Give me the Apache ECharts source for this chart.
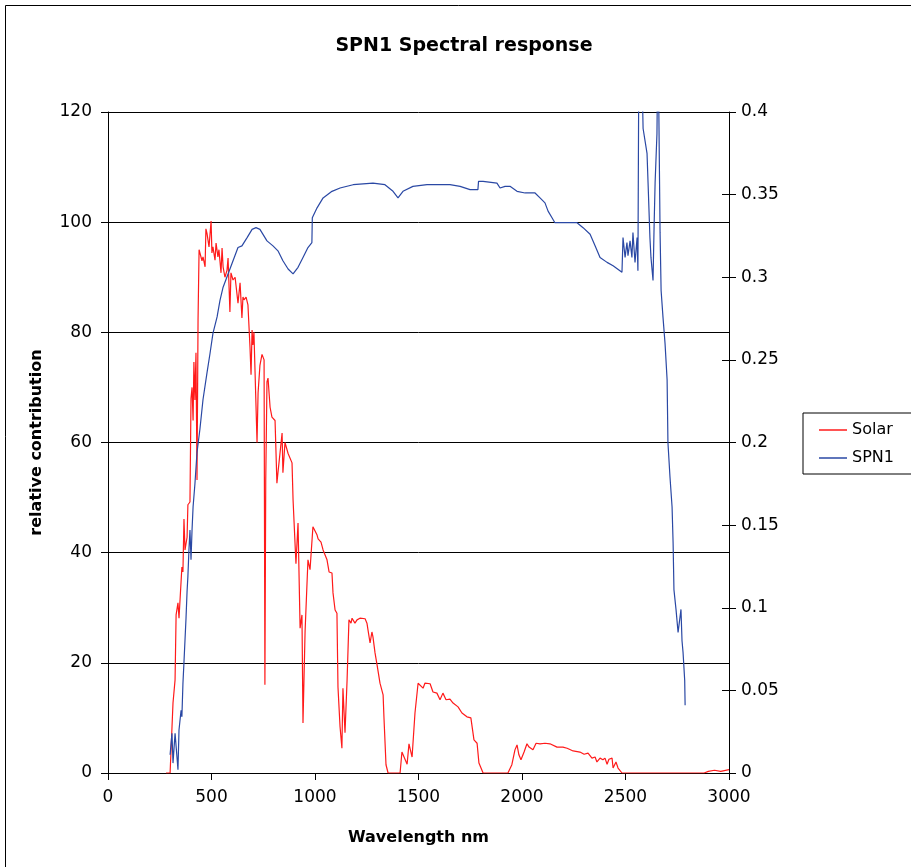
<!DOCTYPE html>
<html>
<head>
<meta charset="utf-8">
<script src="https://cdn.jsdelivr.net/npm/echarts@6/dist/echarts.min.js"></script>
<style>
html,body{margin:0;padding:0;background:#fff;}
#chart{width:911px;height:867px;}
</style>
</head>
<body>
<div id="chart"></div>
<script>
// Wavelength (nm) and relative contribution for the Solar series (left axis)
const solarNm = [280,300,314,324,329,338,343,357,362,367,372,382,386,396,401,406,411,415,420,425,430,435,440,449,454,459,469,473,478,488,498,502,507,517,522,531,536,546,551,556,565,575,580,589,594,604,614,623,628,638,647,652,657,667,676,686,691,696,700,705,720,725,734,744,754,758,762,768,773,783,792,807,816,821,841,845,855,870,889,894,908,918,928,937,942,952,966,976,990,995,1010,1015,1029,1039,1058,1068,1082,1087,1097,1106,1111,1121,1130,1135,1145,1155,1164,1174,1179,1193,1203,1217,1242,1251,1256,1266,1275,1280,1290,1300,1314,1329,1333,1343,1353,1411,1420,1445,1454,1469,1483,1498,1507,1522,1531,1556,1570,1589,1604,1618,1633,1652,1667,1691,1710,1734,1753,1768,1783,1792,1812,1932,1951,1966,1976,1985,1995,2010,2024,2034,2053,2068,2087,2111,2135,2169,2198,2218,2247,2280,2300,2319,2338,2353,2362,2377,2391,2401,2411,2420,2435,2440,2454,2464,2483,2880,2900,2930,2960,3000];
const solarVal = [0,0,12.7,16.9,28.7,30.9,28.1,37.4,36.5,46.1,40.5,42.8,48.7,49.2,68,70,64,74.6,67.7,76.3,53.2,82.2,95,95,93,93.7,91.9,98.8,98,95.5,100.2,94.4,95.5,93.1,96.2,93.7,95,90.8,95.3,91.9,90,91.3,93.5,83.7,90.8,89.5,90,89.9,85.3,89,82.6,86.4,85.9,86.4,85,77.3,72.3,80.4,77.7,80,60,69,74,76,75,16,53,71,71.7,66.4,64.6,64,52.6,54.5,61.7,54.5,60,58,56.3,49.6,38,45.4,26.3,28.7,9.1,25.6,38.7,36.9,44.7,44.7,43.2,42.5,41.9,40.5,38.7,36.5,36.3,32.7,29.6,29,15.6,8.4,4.5,15.4,7.3,16.9,27.8,27.2,28.1,27.2,27.8,28.1,28,27.2,26,23.6,25.6,24.7,21.8,19.6,16.3,14.2,10.2,1.5,0,0,3.8,1.6,5.3,2.9,10.9,16.3,16.5,15.4,16.3,16.2,14.7,14.5,13.3,14.5,13.3,13.4,12.7,12,10.9,10.2,10,6,5.4,1.8,0,0,1.5,4.2,5.1,3.3,2.4,3.8,5.3,4.7,4.2,5.4,5.3,5.4,5.3,4.7,4.7,4.5,4,3.8,3.4,3.6,2.7,2.9,2,2.7,2.4,2.7,1.6,2.5,2.7,0.9,2,0.9,0,0,0.3,0.5,0.3,0.6,0.4];

// Wavelength (nm) and SPN1 response (right axis)
const spnNm = [300,309,314,324,333,338,343,353,357,362,367,377,382,386,391,396,401,406,411,420,430,444,459,478,493,507,527,541,556,580,604,628,647,672,696,715,734,768,797,821,845,870,894,918,942,966,985,987,1010,1039,1082,1121,1184,1280,1338,1377,1401,1425,1473,1541,1652,1701,1749,1787,1790,1812,1879,1894,1918,1942,1976,2015,2063,2087,2111,2126,2145,2159,2198,2266,2295,2329,2353,2377,2411,2440,2483,2488,2498,2507,2512,2522,2531,2536,2546,2556,2560,2565,2575,2585,2604,2609,2618,2623,2633,2638,2643,2652,2657,2662,2667,2672,2681,2691,2701,2705,2715,2725,2730,2734,2744,2754,2768,2773,2778,2786,2788];
const spnVal = [0.011,0.024,0.006,0.024,0.010,0.002,0.026,0.038,0.034,0.054,0.067,0.094,0.110,0.119,0.135,0.147,0.129,0.147,0.161,0.175,0.194,0.208,0.226,0.242,0.254,0.266,0.276,0.286,0.294,0.302,0.310,0.318,0.319,0.324,0.329,0.330,0.329,0.322,0.319,0.316,0.310,0.305,0.302,0.306,0.312,0.318,0.321,0.336,0.342,0.348,0.352,0.354,0.356,0.357,0.356,0.352,0.348,0.352,0.355,0.356,0.356,0.355,0.353,0.353,0.358,0.358,0.357,0.354,0.355,0.355,0.352,0.351,0.351,0.348,0.345,0.340,0.336,0.333,0.333,0.333,0.330,0.326,0.319,0.312,0.309,0.307,0.303,0.324,0.312,0.321,0.313,0.322,0.312,0.327,0.309,0.324,0.304,0.45,0.45,0.390,0.375,0.357,0.324,0.312,0.298,0.330,0.357,0.387,0.45,0.45,0.327,0.292,0.276,0.260,0.238,0.200,0.179,0.161,0.139,0.111,0.099,0.085,0.099,0.080,0.073,0.056,0.041];

const leftTicks = [0,20,40,60,80,100,120];
const rightTicks = ['0','0.05','0.1','0.15','0.2','0.25','0.3','0.35','0.4'];
const xTicks = ['0','500','1000','1500','2000','2500','3000'];

const font = 'DejaVu Sans, Verdana, sans-serif';
const chart = echarts.init(document.getElementById('chart'));
const solarData = solarNm.map((x,i)=>[x, solarVal[i]]);
const spnData = spnNm.map((x,i)=>[x, spnVal[i]]);

chart.setOption({
  animation: false,
  backgroundColor: '#fff',
  graphic: [{
    type: 'rect', shape: {x: 5.5, y: 5.5, width: 1000, height: 1000},
    style: {fill: 'none', stroke: '#000', lineWidth: 1}, silent: true, z: -10
  }],
  title: {
    text: 'SPN1 Spectral response',
    left: 459, top: 32, textAlign: 'center',
    textStyle: {fontFamily: font, fontSize: 19, fontWeight: 'bold', color: '#000'}
  },
  legend: {
    orient: 'vertical', left: 803, top: 413,
    padding: [9, 30, 8, 16], itemGap: 12,
    borderColor: '#000', borderWidth: 1,
    icon: 'rect', itemWidth: 28, itemHeight: 1.5,
    textStyle: {fontFamily: font, fontSize: 16, color: '#000', padding: [0,0,0,0]},
    data: ['Solar', 'SPN1']
  },
  grid: {left: 108, right: 182, top: 112, bottom: 94},
  xAxis: {
    type: 'value', min: 0, max: 3000, interval: 500,
    name: 'Wavelength nm', nameLocation: 'middle', nameGap: 57,
    nameTextStyle: {fontFamily: font, fontSize: 16, fontWeight: 'bold', color: '#000'},
    axisLine: {lineStyle: {color: '#000', width: 1}},
    axisTick: {show: true, length: 7, lineStyle: {color: '#000'}},
    axisLabel: {fontFamily: font, fontSize: 17, color: '#000', margin: 16,
      formatter: v => xTicks[Math.round(v/500)]},
    splitLine: {show: false}
  },
  yAxis: [{
    type: 'value', min: 0, max: 120, interval: 20, position: 'left',
    name: 'relative contribution', nameLocation: 'middle', nameGap: 63, nameRotate: 90,
    nameTextStyle: {fontFamily: font, fontSize: 16, fontWeight: 'bold', color: '#000'},
    axisLine: {show: true, lineStyle: {color: '#000', width: 1}},
    axisTick: {show: true, length: 7, lineStyle: {color: '#000'}},
    axisLabel: {fontFamily: font, fontSize: 17, color: '#000', margin: 16,
      formatter: v => String(leftTicks[Math.round(v/20)])},
    splitLine: {show: true, lineStyle: {color: '#000', width: 1}}
  }, {
    type: 'value', min: 0, max: 0.4, interval: 0.05, position: 'right',
    axisLine: {show: true, lineStyle: {color: '#000', width: 1}},
    axisTick: {show: true, length: 7, lineStyle: {color: '#000'}},
    axisLabel: {fontFamily: font, fontSize: 17, color: '#000', margin: 12,
      formatter: v => rightTicks[Math.round(v/0.05)]},
    splitLine: {show: false}
  }, {
    type: 'value', min: 0, max: 0.4, interval: 0.05, position: 'right',
    axisLine: {show: false},
    axisTick: {show: true, inside: true, length: 7, lineStyle: {color: '#000'}},
    axisLabel: {show: false},
    splitLine: {show: false}
  }],
  series: [{
    name: 'Solar', type: 'line', yAxisIndex: 0, data: solarData,
    showSymbol: false, symbol: 'none', clip: true,
    lineStyle: {color: '#ff1a1a', width: 1.2}, itemStyle: {color: '#ff1a1a'}
  }, {
    name: 'SPN1', type: 'line', yAxisIndex: 1, data: spnData,
    showSymbol: false, symbol: 'none', clip: true,
    lineStyle: {color: '#2a48a4', width: 1.2}, itemStyle: {color: '#2a48a4'}
  }]
});
</script>
</body>
</html>
